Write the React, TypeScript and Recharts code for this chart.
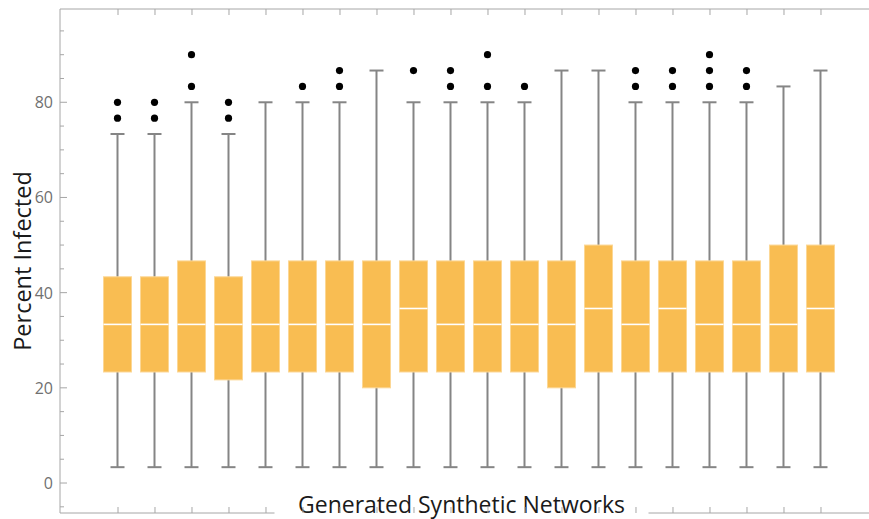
import React from 'react'
import { ComposedChart, Bar, XAxis, YAxis } from 'recharts'

// one entry per synthetic network, values in percent
const networks = [1, 2, 3, 4, 5, 6, 7, 8, 9, 10, 11, 12, 13, 14, 15, 16, 17, 18, 19, 20]
const whiskerLow = [3.33, 3.33, 3.33, 3.33, 3.33, 3.33, 3.33, 3.33, 3.33, 3.33, 3.33, 3.33, 3.33, 3.33, 3.33, 3.33, 3.33, 3.33, 3.33, 3.33]
const q1 = [23.33, 23.33, 23.33, 21.67, 23.33, 23.33, 23.33, 20, 23.33, 23.33, 23.33, 23.33, 20, 23.33, 23.33, 23.33, 23.33, 23.33, 23.33, 23.33]
const median = [33.33, 33.33, 33.33, 33.33, 33.33, 33.33, 33.33, 33.33, 36.67, 33.33, 33.33, 33.33, 33.33, 36.67, 33.33, 36.67, 33.33, 33.33, 33.33, 36.67]
const q3 = [43.33, 43.33, 46.67, 43.33, 46.67, 46.67, 46.67, 46.67, 46.67, 46.67, 46.67, 46.67, 46.67, 50, 46.67, 46.67, 46.67, 46.67, 50, 50]
const whiskerHigh = [73.33, 73.33, 80, 73.33, 80, 80, 80, 86.67, 80, 80, 80, 80, 86.67, 86.67, 80, 80, 80, 80, 83.33, 86.67]
const outliers: number[][] = [
  [76.67, 80], [76.67, 80], [83.33, 90], [76.67, 80], [], [83.33], [83.33, 86.67], [], [86.67], [83.33, 86.67],
  [83.33, 90], [83.33], [], [], [83.33, 86.67], [83.33, 86.67], [83.33, 86.67, 90], [83.33, 86.67], [], [],
]
const yTicks = [-5, 0, 5, 10, 15, 20, 25, 30, 35, 40, 45, 50, 55, 60, 65, 70, 75, 80, 85, 90, 95]
const yLabels = [0, 20, 40, 60, 80]

const boxData = networks.map((n, k) => ({
  i: n,
  range: [whiskerLow[k], whiskerHigh[k]],
  lo: whiskerLow[k], q1: q1[k], med: median[k], q3: q3[k], hi: whiskerHigh[k],
  out: outliers[k],
}))

const FONT = '"Open Sans", "Noto Sans", sans-serif'
const AXIS = '#a6a6a6'
const WHISKER = '#858585'
const X_DOMAIN = [-0.5676, 21.595]

// whisker range comes from the bar; box, median and outliers are placed on the same scale
const BoxShape = (props: any) => {
  const { x, y, width, height, payload } = props
  const top = Math.min(y, y + height)
  const h = Math.abs(height)
  const px = (v: number) => top + (h * (payload.hi - v)) / (payload.hi - payload.lo)
  const cx = x + width / 2
  return (
    <g>
      <line x1={cx} x2={cx} y1={top} y2={top + h} stroke={WHISKER} strokeWidth={2} />
      <line x1={cx - 7} x2={cx + 7} y1={top} y2={top} stroke={WHISKER} strokeWidth={2} />
      <line x1={cx - 7} x2={cx + 7} y1={top + h} y2={top + h} stroke={WHISKER} strokeWidth={2} />
      <rect x={x} y={px(payload.q3)} width={width} height={px(payload.q1) - px(payload.q3)} fill="#f9bd52" stroke="#fcd795" strokeWidth={1} />
      <line x1={x} x2={x + width} y1={px(payload.med)} y2={px(payload.med)} stroke="#ffffff" strokeWidth={1.6} />
      {payload.out.map((v: number) => (
        <circle key={v} cx={cx} cy={px(v)} r={3.6} fill="#000" />
      ))}
    </g>
  )
}

const LeftTick = (props: any) => {
  const { x, y, payload } = props
  const major = yLabels.includes(payload.value)
  return (
    <g>
      <line x1={x} x2={x + (major ? 7 : 4)} y1={y} y2={y} stroke={AXIS} />
      {major && (
        <text x={x - 7} y={y} textAnchor="end" dominantBaseline="central" fill="#707070" fontSize={16} fontFamily={FONT}>
          {payload.value}
        </text>
      )}
    </g>
  )
}

const BottomTick = (props: any) => <line x1={props.x} x2={props.x} y1={props.y} y2={props.y - 6} stroke={AXIS} />
const TopTick = (props: any) => <line x1={props.x} x2={props.x} y1={props.y} y2={props.y + 6} stroke={AXIS} />

const XTitle = (props: any) => {
  const { x, y, width } = props.viewBox
  const cx = x + width / 2 - 8.5
  return (
    <g>
      <rect x={cx - 187} y={y - 8} width={374} height={16} fill="#fff" />
      <text x={cx} y={y} textAnchor="middle" fontSize={23} fill="#1a1a1a" fontFamily={FONT}>
        Generated Synthetic Networks
      </text>
    </g>
  )
}

const YTitle = (props: any) => {
  const { y, height } = props.viewBox
  const cy = y + height / 2
  return (
    <text x={22} y={cy} transform={`rotate(-90 22 ${cy})`} textAnchor="middle" dominantBaseline="central" fontSize={23.5} fill="#1a1a1a" fontFamily={FONT}>
      Percent Infected
    </text>
  )
}

export default function App() {
  return (
    <div style={{ position: 'fixed', left: 0, top: 0, width: 869, height: 519, background: '#fff', overflow: 'hidden' }}>
      <ComposedChart width={880} height={519} data={boxData} margin={{ top: 8, right: 0, bottom: 5, left: 0 }}>
        <XAxis
          xAxisId={0}
          dataKey="i"
          type="number"
          domain={X_DOMAIN}
          allowDataOverflow
          ticks={networks}
          interval={0}
          height={1}
          tickSize={0}
          tickMargin={0}
          stroke={AXIS}
          tick={<BottomTick />}
          label={{ content: <XTitle /> }}
        />
        <XAxis
          xAxisId="top"
          orientation="top"
          dataKey="i"
          type="number"
          domain={X_DOMAIN}
          allowDataOverflow
          ticks={networks}
          interval={0}
          height={1}
          tickSize={0}
          tickMargin={0}
          stroke={AXIS}
          tick={<TopTick />}
        />
        <YAxis
          type="number"
          domain={[-6.3, 99.6]}
          allowDataOverflow
          ticks={yTicks}
          interval={0}
          width={60}
          tickSize={0}
          tickMargin={0}
          stroke={AXIS}
          tick={<LeftTick />}
          label={{ content: <YTitle /> }}
        />
        <Bar dataKey="range" barSize={28} shape={<BoxShape />} isAnimationActive={false} />
      </ComposedChart>
    </div>
  )
}
